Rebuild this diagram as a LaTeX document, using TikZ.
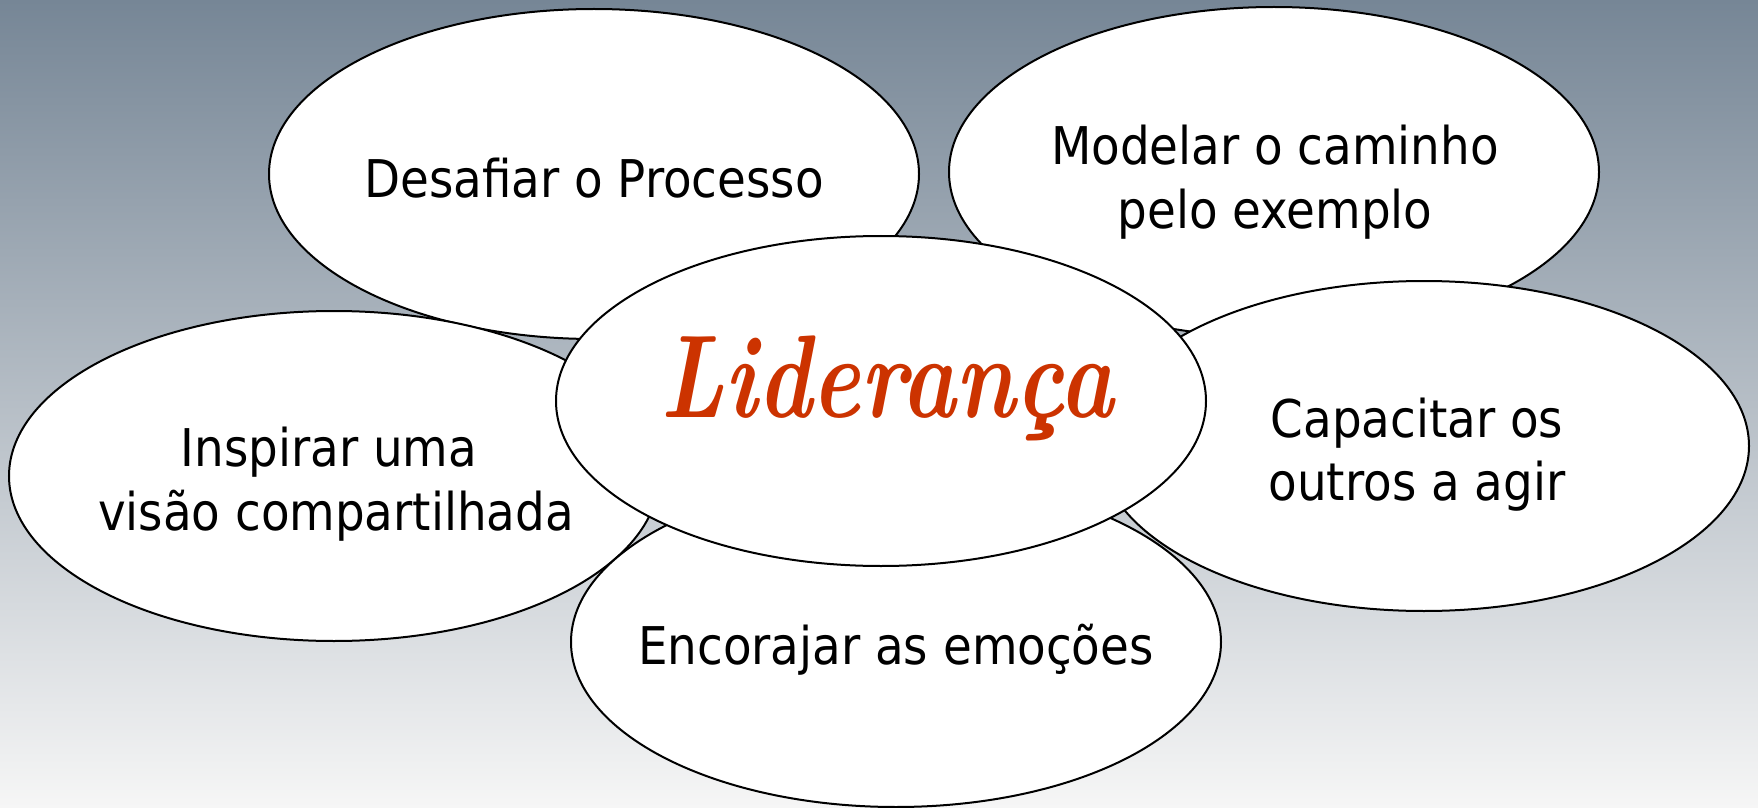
\documentclass[tikz,border=0pt]{standalone}
\usepackage{fontspec}
\usetikzlibrary{shapes.geometric}
\newfontfamily\labelfont{DejaVu Sans Condensed}
\definecolor{bgtop}{RGB}{118,134,150}
\definecolor{bgmid}{RGB}{203,207,212}
\definecolor{bgbot}{RGB}{246,246,246}
\definecolor{leadred}{RGB}{204,51,0}
\begin{document}
\begin{tikzpicture}[x=0.5pt,y=-0.5pt,
  bubble/.style={ellipse, draw=black, line width=1pt, fill=white,
    minimum width=325pt, minimum height=165pt, inner sep=0pt},
  txt/.style={anchor=base, inner sep=0pt, font=\labelfont\fontsize{26}{32}\selectfont},
  lead/.style={anchor=base, inner sep=0pt, text=leadred, font=\bfseries\itshape\fontsize{46}{54}\selectfont}]
\useasboundingbox (0,0) rectangle (1758,808);
\shade[top color=bgtop, middle color=bgmid, bottom color=bgbot] (0,0) rectangle (1758,808);
\node[bubble] (desafiar) at (594,174) {};
\node[bubble] (modelar) at (1274,172) {};
\node[bubble] (inspirar) at (334,476) {};
\node[bubble] (capacitar) at (1424,446) {};
\node[bubble] (encorajar) at (896,642) {};
\node[bubble] (lideranca) at (881,401) {};
\node[txt] (t1) at (594,198) {Desafiar o Processo};
\node[txt] (t2a) at (1275,165) {Modelar o caminho};
\node[txt] (t2b) at (1275,228) {pelo exemplo};
\node[txt] (t3a) at (329,466) {Inspirar uma};
\node[txt] (t3b) at (336,530) {visão compartilhada};
\node[txt] (t4a) at (1417,437) {Capacitar os};
\node[txt] (t4b) at (1417,500) {outros a agir};
\node[txt] (t5) at (896,664) {Encorajar as emoções};
\node[lead] (t6) at (887,417) {\scalebox{1}[1.28]{Liderança}};
\end{tikzpicture}
\end{document}
